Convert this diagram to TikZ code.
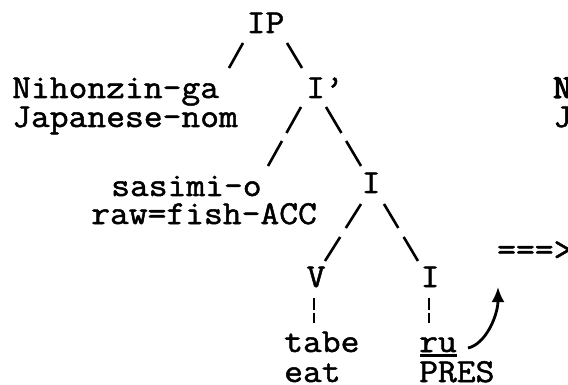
\documentclass[tikz,border=0pt]{standalone}
\usepackage{fontspec}
\usetikzlibrary{arrows.meta}
\newfontfamily\tw[FakeBold=1.5,FakeStretch=1.09]{Latin Modern Mono}
\newfontfamily\twb[FakeBold=3.5,FakeStretch=1.09]{Latin Modern Mono}
\begin{document}
\begin{tikzpicture}[x=1pt,y=-1pt,
  w/.style={anchor=base west,inner sep=0pt,text height=19pt,text depth=4pt,font=\tw\fontsize{33.5}{36}\selectfont},
  wb/.style={w,font=\twb\fontsize{33.5}{36}\selectfont},
  br/.style={line width=2.6pt},
  brgap/.style={line width=2.6pt,dash pattern=#1},
  dbar/.style={line width=2.4pt,dash pattern=on 11.5pt off 3pt},
  mvarrow/.style={line width=2.8pt,-{Latex[length=15pt,width=13pt]}}]
\useasboundingbox (0,0) rectangle (568,385);
\clip (0,0) rectangle (568,385);
% tree nodes
\node[w] (IP)   at (246.5,33) {IP};
\node[w] (nih)  at (12,98)    {Nihonzin-ga};
\node[w] (nihg) at (12,127)   {Japanese-nom};
\node[w] (Ibar) at (306,98)   {I’};
\node[w] (sas)  at (111,196)  {sasimi-o};
\node[w] (sasg) at (91,224)   {raw=fish-ACC};
\node[w] (I1)   at (361.5,193) {I};
\node[w] (V)    at (306.5,287) {V};
\node[w] (I2)   at (420.5,287) {I};
\node[w] (tabe) at (284,352)  {tabe};
\node[w] (eat)  at (284,382)  {eat};
\node[w] (ru)   at (419,352)  {ru};
\node[w] (pres) at (419,382)  {PRES};
\node[w] (derive) at (497,260) {===>};
\node[wb] (nih2)  at (553,98)  {Nihonzin-ga};
\node[w] (nih2g) at (553,127) {Japanese-nom};
% branches
\draw[br] ([shift={(-3.5,10)}]IP.base west) -- ([shift={(217,-30)}]nih.base west);
\draw[br] ([shift={(40.5,10)}]IP.base west) -- ([shift={(-4,-30)}]Ibar.base west);
\draw[brgap={on 29.8pt off 9.2pt}] ([shift={(-5,9)}]Ibar.base west) -- ([shift={(157,-30)}]sas.base west);
\draw[brgap={on 30.2pt off 9.3pt}] ([shift={(20,9)}]Ibar.base west) -- ([shift={(-0.5,-27)}]I1.base west);
\draw[brgap={on 28.4pt off 10.6pt}] ([shift={(-0.5,11)}]I1.base west) -- ([shift={(18.5,-26)}]V.base west);
\draw[brgap={on 27.9pt off 10.5pt}] ([shift={(22.5,11)}]I1.base west) -- ([shift={(-2.5,-26)}]I2.base west);
% lexical insertion
\draw[dbar] ([shift={(7.5,11)}]V.base west) -- ([shift={(30,-29)}]tabe.base west);
\draw[dbar] ([shift={(8.5,11)}]I2.base west) -- ([shift={(10,-29)}]ru.base west);
% underline of ru
\draw[line width=2.4pt] ([shift={(1,3.5)}]ru.base west) -- ([shift={(0,3.5)}]ru.base east);
% movement arrow
\coordinate (tip) at (498,287);
\draw[mvarrow] ([shift={(49,-4)}]ru.base west) .. controls +(18,-4) and +(0,28) .. (tip);
\end{tikzpicture}
\end{document}
